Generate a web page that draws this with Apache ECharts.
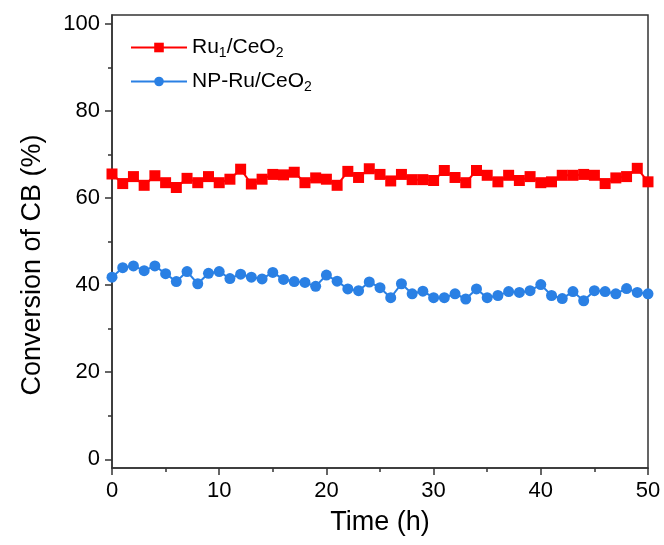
<!DOCTYPE html>
<html>
<head>
<meta charset="utf-8">
<script src="https://cdn.jsdelivr.net/npm/echarts@6/dist/echarts.min.js"></script>
<style>
html,body{margin:0;padding:0;background:#fff;}
#chart{width:664px;height:545px;}
</style>
</head>
<body>
<div id="chart"></div>
<script>
var hours = [];
for (var h = 0; h <= 50; h++) hours.push(h);

var ru1Values = [65.5, 63.3, 64.9, 62.9, 65.1, 63.5, 62.4, 64.5, 63.5, 64.9,
  63.5, 64.3, 66.6, 63.2, 64.3, 65.4, 65.3, 65.9, 63.5, 64.6,
  64.3, 62.9, 66.1, 64.7, 66.7, 65.4, 63.9, 65.4, 64.2, 64.2,
  64.0, 66.3, 64.7, 63.5, 66.3, 65.2, 63.7, 65.2, 64.0, 64.9,
  63.5, 63.7, 65.2, 65.2, 65.4, 65.2, 63.3, 64.6, 64.9, 66.8, 63.7];

var npRuValues = [41.8, 44.0, 44.4, 43.3, 44.4, 42.6, 40.8, 43.1, 40.3, 42.7,
  43.1, 41.5, 42.5, 41.8, 41.4, 42.9, 41.3, 40.8, 40.6, 39.7,
  42.3, 40.9, 39.1, 38.7, 40.7, 39.4, 37.1, 40.3, 38.0, 38.6,
  37.1, 37.1, 38.0, 36.8, 39.1, 37.1, 37.6, 38.5, 38.3, 38.7,
  40.1, 37.6, 36.9, 38.5, 36.4, 38.7, 38.5, 38.0, 39.2, 38.3, 38.0];

var yTickValues = [0, 20, 40, 60, 80, 100];
var yMinorValues = [10, 30, 50, 70, 90];
var xTickLabels = [0, 10, 20, 30, 40, 50];

var seriesNames = ['Ru1/CeO2', 'NP-Ru/CeO2'];
var legendRich = {
  'Ru1/CeO2': '{n|Ru}{s|1}{n|/CeO}{s|2}',
  'NP-Ru/CeO2': '{n|NP-Ru/CeO}{s|2}'
};
var yTitle = 'Conversion of CB (%)';
var xTitle = 'Time (h)';

function pairs(vals) {
  return vals.map(function (v, i) { return [hours[i], v]; });
}

var axisColor = '#333';
var font = 'Liberation Sans, Arial, sans-serif';

var chart = echarts.init(document.getElementById('chart'));
chart.setOption({
  animation: false,
  backgroundColor: '#fff',
  textStyle: { fontFamily: font },
  grid: {
    left: 112, top: 15, right: 16, bottom: 77,
    show: true, borderColor: axisColor, borderWidth: 1.5, backgroundColor: 'transparent'
  },
  graphic: [{
    type: 'text', rotation: Math.PI / 2,
    x: 33, y: 265,
    style: { text: yTitle, fontSize: 27, fontFamily: font, fill: '#000',
      align: 'center', verticalAlign: 'middle' }
  }],
  legend: {
    left: 125, top: 30, orient: 'vertical',
    itemWidth: 56, itemHeight: 12, itemGap: 9,
    data: seriesNames,
    formatter: function (name) { return legendRich[name]; },
    textStyle: {
      fontFamily: font, color: '#000',
      rich: {
        n: { fontSize: 21, fontFamily: font, color: '#000', lineHeight: 26 },
        s: { fontSize: 14, fontFamily: font, color: '#000', padding: [11, 0, 0, 0], lineHeight: 26 }
      }
    }
  },
  xAxis: {
    type: 'value', min: 0, max: 50, interval: 10,
    name: xTitle, nameLocation: 'middle', nameGap: 41,
    nameTextStyle: { fontSize: 27, color: '#000', fontFamily: font },
    axisLine: { show: true, onZero: false, lineStyle: { color: axisColor, width: 1.5 } },
    axisTick: { show: true, inside: false, length: 7, lineStyle: { color: axisColor, width: 1.5 } },
    minorTick: { show: true, splitNumber: 2, length: 4, lineStyle: { color: axisColor, width: 1.5 } },
    axisLabel: { fontSize: 22, color: '#000', margin: 12, fontFamily: font,
      customValues: xTickLabels },
    splitLine: { show: false }, minorSplitLine: { show: false }
  },
  yAxis: [{
    type: 'value', min: -2, max: 102,
    axisLine: { show: true, onZero: false, lineStyle: { color: axisColor, width: 1.5 } },
    axisTick: { show: true, length: 7, customValues: yTickValues, lineStyle: { color: axisColor, width: 1.5 } },
    axisLabel: { fontSize: 22, color: '#000', margin: 12, fontFamily: font, customValues: yTickValues },
    splitLine: { show: false }
  }, {
    type: 'value', min: -2, max: 102, position: 'left',
    axisLine: { show: false },
    axisTick: { show: true, length: 4, customValues: yMinorValues, lineStyle: { color: axisColor, width: 1.5 } },
    axisLabel: { show: false },
    splitLine: { show: false }
  }],
  series: [{
    name: seriesNames[0], type: 'line', data: pairs(ru1Values),
    symbol: 'rect', symbolSize: 11, color: '#ff0000',
    lineStyle: { color: '#ff0000', width: 2 },
    itemStyle: { color: '#ff0000' }, clip: true, z: 3
  }, {
    name: seriesNames[1], type: 'line', data: pairs(npRuValues),
    symbol: 'circle', symbolSize: 11, color: '#2a80e4',
    lineStyle: { color: '#2a80e4', width: 2 },
    itemStyle: { color: '#2a80e4' }, clip: true, z: 3
  }]
});
</script>
</body>
</html>
